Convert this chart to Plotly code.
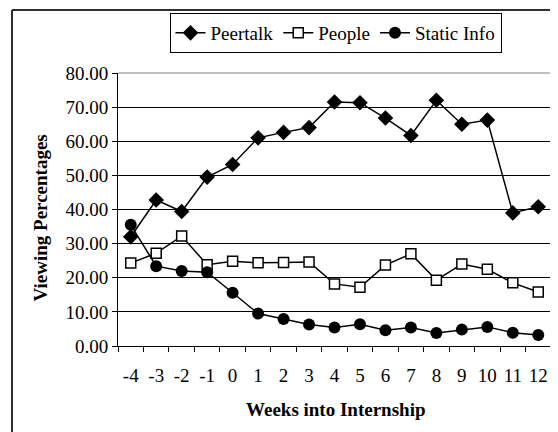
import plotly.graph_objects as go

weeks = [-4, -3, -2, -1, 0, 1, 2, 3, 4, 5, 6, 7, 8, 9, 10, 11, 12]
week_labels = [str(w) for w in weeks]
peertalk = [32.0, 42.8, 39.4, 49.5, 53.2, 61.0, 62.6, 64.0, 71.5, 71.3, 66.8, 61.7, 72.0, 65.0, 66.2, 39.0, 40.8]
people = [24.3, 27.2, 32.2, 23.8, 24.8, 24.4, 24.5, 24.6, 18.2, 17.2, 23.7, 27.0, 19.3, 24.0, 22.5, 18.5, 15.8]
static_info = [35.5, 23.4, 22.0, 21.6, 15.6, 9.5, 7.9, 6.3, 5.4, 6.4, 4.6, 5.4, 3.8, 4.8, 5.6, 3.9, 3.2]
y_ticks = [0, 10, 20, 30, 40, 50, 60, 70, 80]

FONT = "Liberation Serif"
FS = 19

fig = go.Figure()
fig.add_trace(go.Scatter(x=weeks, y=peertalk, name="Peertalk", mode="lines+markers",
                         line=dict(color="black", width=1.5),
                         marker=dict(symbol="diamond", size=12, color="black")))
fig.add_trace(go.Scatter(x=weeks, y=people, name="People", mode="lines+markers",
                         line=dict(color="black", width=1.5),
                         marker=dict(symbol="square", size=10, color="white",
                                     line=dict(color="black", width=1.5))))
fig.add_trace(go.Scatter(x=weeks, y=static_info, name="Static Info", mode="lines+markers",
                         line=dict(color="black", width=1.5),
                         marker=dict(symbol="circle", size=12, color="black")))

# page body has an 8px margin: figure coordinates are page coordinates minus 8
OFF = 8
W, H = 558 - OFF, 432 - OFF
L, R, T, B = 118 - OFF, 551 - OFF, 73 - OFF, 346 - OFF
pw, ph = R - L, B - T

def px_x(p):
    return (p - OFF - L) / pw

def px_y(p):
    return (B - (p - OFF)) / ph

fig.update_layout(
    width=W, height=H,
    margin=dict(l=L, r=W - R, t=T, b=H - B, autoexpand=False),
    paper_bgcolor="white", plot_bgcolor="white",
    font=dict(family=FONT, size=FS, color="black"),
    showlegend=True,
    legend=dict(orientation="h", x=px_x(335.5), xanchor="center", y=px_y(13), yanchor="top",
                bordercolor="black", borderwidth=1, bgcolor="white",
                font=dict(family=FONT, size=FS, color="black"),
                itemwidth=30, tracegroupgap=0),
    xaxis=dict(range=[-4.5, 12.5], tickvals=weeks, ticktext=week_labels, ticks="",
               showgrid=False, zeroline=False, showline=True, linecolor="black", linewidth=1,
               ticklabelstandoff=12,
               minor=dict(tickvals=[w - 0.5 for w in weeks] + [12.5], ticks="outside",
                          ticklen=5, tickcolor="black", showgrid=False),
               tickfont=dict(family=FONT, size=FS)),
    yaxis=dict(range=[0, 80], tickvals=y_ticks, tickformat=".2f", ticks="outside", ticklen=5,
               tickcolor="black", showgrid=True, gridcolor="black", gridwidth=1,
               zeroline=False, showline=True, linecolor="black", linewidth=1,
               tickfont=dict(family=FONT, size=FS)),
    annotations=[
        dict(text="<b>Weeks into Internship</b>", xref="paper", yref="paper",
             x=px_x(335.5), y=px_y(409), xanchor="center", yanchor="middle", showarrow=False,
             font=dict(family=FONT, size=FS)),
        dict(text="<b>Viewing Percentages</b>", xref="paper", yref="paper",
             x=px_x(40), y=px_y(218.5), xanchor="center", yanchor="middle", showarrow=False,
             textangle=-90, font=dict(family=FONT, size=FS)),
    ],
    shapes=[
        # plot area border (top & right)
        dict(type="line", xref="paper", yref="paper", x0=0, x1=1, y0=1, y1=1,
             line=dict(color="#808080", width=1)),
        dict(type="line", xref="paper", yref="paper", x0=1, x1=1, y0=0, y1=1,
             line=dict(color="#808080", width=1)),
        # outer chart border
        dict(type="line", xref="paper", yref="paper", x0=px_x(12), x1=px_x(600), y0=px_y(10), y1=px_y(10),
             line=dict(color="#303030", width=2)),
        dict(type="line", xref="paper", yref="paper", x0=px_x(12), x1=px_x(12), y0=px_y(10), y1=px_y(500),
             line=dict(color="#303030", width=2)),
    ],
)

fig.write_html("out.html")
